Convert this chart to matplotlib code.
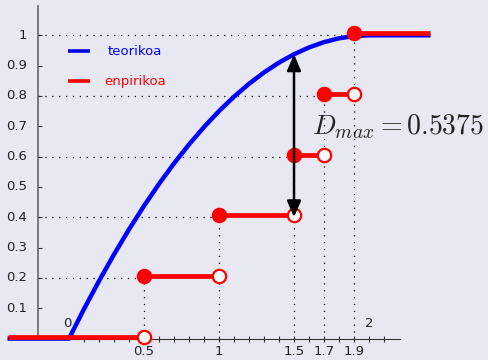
import matplotlib
matplotlib.use("Agg")
import matplotlib.pyplot as plt
import matplotlib.transforms as mtransforms

# ---- data ----
theory_x = [-0.41, 0.0, 0.1, 0.2, 0.3, 0.4, 0.5, 0.6, 0.7, 0.8, 0.9, 1.0,
            1.1, 1.2, 1.3, 1.4, 1.5, 1.6, 1.7, 1.8, 1.9, 2.0, 2.41]
theory_y = [0.0, 0.0, 0.0975, 0.19, 0.2775, 0.36, 0.4375, 0.51, 0.5775, 0.64,
            0.6975, 0.75, 0.7975, 0.84, 0.8775, 0.91, 0.9375, 0.96, 0.9775,
            0.99, 0.9975, 1.0, 1.0]
sample_x = [0.5, 1.0, 1.5, 1.7, 1.9]
emp_levels = [0.0, 0.2, 0.4, 0.6, 0.8, 1.0]
left_end, right_end = -0.41, 2.41
dmax_x = 1.5
dmax_low, dmax_high = 0.4, 0.9375
dmax_label = r"$D_{max} = 0.5375$"
ytick_vals = [0.1, 0.2, 0.3, 0.4, 0.5, 0.6, 0.7, 0.8, 0.9, 1.0]
ytick_labels = ["0.1", "0.2", "0.3", "0.4", "0.5", "0.6", "0.7", "0.8", "0.9", "1"]
xtick_labels = ["0.5", "1", "1.5", "1.7", "1.9"]
xminor = [round(0.1 * i, 1) for i in range(1, 22)]
legend_labels = ["teorikoa", "enpirikoa"]

BLUE = "#0000ff"
RED = "#ff0000"
BG = "#e8e8f2"

plt.rcParams["mathtext.fontset"] = "cm"
fig = plt.figure(figsize=(4.89, 3.6), dpi=100, facecolor=BG)
ax = fig.add_axes([0, 0, 1, 1])
ax.set_facecolor(BG)
ax.set_xlim(-0.46, 2.8)
ax.set_ylim(-0.0706, 1.1164)
ax.axis("off")

red_tr = mtransforms.offset_copy(ax.transData, fig=fig, x=0, y=2, units="dots")

# axes lines
yaxis_x = -0.21
ax.plot([yaxis_x, yaxis_x], [0, 1.097], color="#666666", lw=1.2, zorder=2)
ax.plot([left_end, 2.21], [0, 0], color="#333333", lw=0.8, zorder=2)
ax.plot(xminor, [0] * len(xminor), ls="none", marker="|", ms=4.5, mew=0.8,
        color="#333333", zorder=2)
ax.plot([yaxis_x] * len(ytick_vals), ytick_vals, ls="none", marker=1, ms=3,
        mew=0.8, color="#333333", zorder=2)
for v, lab in zip(ytick_vals, ytick_labels):
    ax.text(-0.28, v, lab, ha="right", va="center", fontsize=9.5, color="#222222")
for v, lab in zip(sample_x, xtick_labels):
    ax.text(v, -0.044, lab, ha="center", va="center", fontsize=9.5, color="#222222")
ax.text(-0.01, 0.05, "0", ha="center", va="center", fontsize=9.5, color="#222222")
ax.text(2.0, 0.05, "2", ha="center", va="center", fontsize=9.5, color="#222222")

# dotted guide lines
dot = dict(color="black", lw=0.9, ls=(0, (1, 4.5)), zorder=1)
for xs, lv in zip(sample_x, emp_levels[1:]):
    ax.plot([yaxis_x, xs], [lv, lv], **dot)
    ax.plot([xs, xs], [0, lv], **dot)

# theoretical curve
ax.plot(theory_x, theory_y, color=BLUE, lw=3.2, solid_capstyle="butt", zorder=3)

# empirical step function
starts = [left_end] + sample_x
ends = sample_x + [right_end]
for s, e, lv in zip(starts, ends, emp_levels):
    ax.plot([s, e], [lv, lv], color=RED, lw=3.4, solid_capstyle="butt",
            zorder=4, transform=red_tr)
for xs, lv_prev, lv in zip(sample_x, emp_levels[:-1], emp_levels[1:]):
    ax.plot([xs], [lv_prev], marker="o", ms=9.6, mfc="white", mec=RED, mew=1.6,
            zorder=6, transform=red_tr)
    ax.plot([xs], [lv], marker="o", ms=11.2, mfc=RED, mec=RED, mew=0,
            zorder=5, transform=red_tr)

# D max arrow
ax.annotate("", xy=(dmax_x, dmax_high), xytext=(dmax_x, dmax_low),
            arrowprops=dict(arrowstyle="<|-|>,head_length=0.7,head_width=0.3",
                            color="black", lw=1.8, shrinkA=0, shrinkB=0,
                            mutation_scale=14),
            zorder=7)
ax.text(2.197, 0.6736, dmax_label, ha="center", va="baseline", fontsize=20,
        color="#222222")

# legend
ax.plot([-0.007, 0.14], [0.948, 0.948], color=BLUE, lw=2.6, solid_capstyle="butt")
ax.plot([-0.007, 0.14], [0.849, 0.849], color=RED, lw=2.6, solid_capstyle="butt")
ax.text(0.44, 0.948, legend_labels[0], ha="center", va="center", fontsize=9.5, color=BLUE)
ax.text(0.44, 0.849, legend_labels[1], ha="center", va="center", fontsize=9.5, color=RED)

fig.savefig("out.png", dpi=100, facecolor=BG)
